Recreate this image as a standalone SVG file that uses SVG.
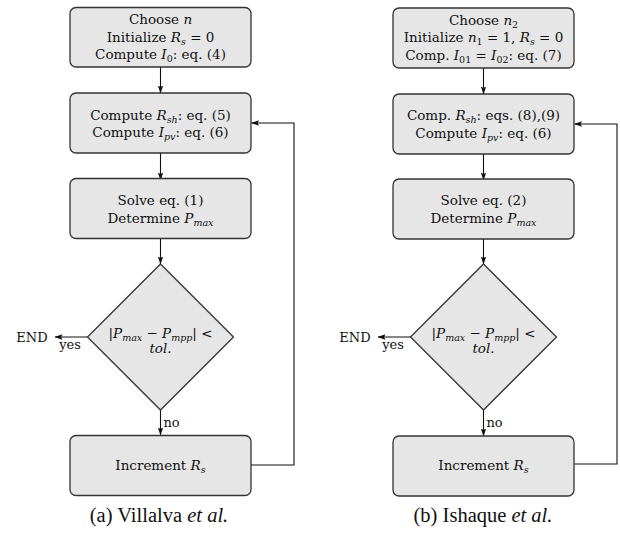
<svg xmlns="http://www.w3.org/2000/svg" width="620" height="539" viewBox="0 0 620 539">
<style>
text{font-family:'DejaVu Serif','Liberation Serif',serif;font-size:13.5px;fill:#111;text-anchor:middle}
.i{font-style:italic}
.s{font-size:9.5px;font-style:italic}
.n{font-style:normal}
.box{fill:#e6e6e6;stroke:#333;stroke-width:1.3}
.ln{fill:none;stroke:#111;stroke-width:1.1}
text.cap{font-family:'Liberation Serif','Times New Roman',serif;font-size:20.5px}
text.lbl{font-size:13px}
</style>
<defs>
<marker id="ah" viewBox="0 0 8 6" refX="7.5" refY="3" markerWidth="8" markerHeight="6" markerUnits="userSpaceOnUse" orient="auto">
<path d="M0,0.3 L8,3 L0,5.7 L1.5,3 z" fill="#111"/>
</marker>
</defs>

<g id="connectors">
<line class="ln" x1="160.5" y1="67" x2="160.5" y2="93" marker-end="url(#ah)"/>
<line class="ln" x1="160.5" y1="153" x2="160.5" y2="180" marker-end="url(#ah)"/>
<line class="ln" x1="160.5" y1="238" x2="160.5" y2="264" marker-end="url(#ah)"/>
<line class="ln" x1="160.5" y1="410" x2="160.5" y2="435" marker-end="url(#ah)"/>
<line class="ln" x1="87.5" y1="337" x2="55" y2="337" marker-end="url(#ah)"/>
<polyline class="ln" points="251,465 294,465 294,123 251.5,123" marker-end="url(#ah)"/>
<line class="ln" x1="483.5" y1="68" x2="483.5" y2="94" marker-end="url(#ah)"/>
<line class="ln" x1="483.5" y1="154" x2="483.5" y2="180" marker-end="url(#ah)"/>
<line class="ln" x1="483.5" y1="238" x2="483.5" y2="264" marker-end="url(#ah)"/>
<line class="ln" x1="483.5" y1="410" x2="483.5" y2="436" marker-end="url(#ah)"/>
<line class="ln" x1="410.5" y1="337" x2="378" y2="337" marker-end="url(#ah)"/>
<polyline class="ln" points="574,464 617,464 617,124 574.5,124" marker-end="url(#ah)"/>
<text class="lbl" x="70" y="349">yes</text>
<text class="lbl" x="171.5" y="427">no</text>
<text class="lbl" x="393" y="349">yes</text>
<text class="lbl" x="494.5" y="427">no</text>
<text class="lbl" x="32" y="342">END</text>
<text class="lbl" x="355" y="342">END</text>
</g>

<g id="a-init">
<rect class="box" x="70" y="7.5" width="181" height="59.5" rx="6"/>
<text x="160.5" y="24">Choose <tspan class="i">n</tspan></text>
<text x="160.5" y="41.5">Initialize <tspan class="i">R</tspan><tspan class="s" dy="3">s</tspan><tspan dy="-3">  =  0</tspan></text>
<text x="160.5" y="59">Compute <tspan class="i">I</tspan><tspan class="s n" dy="3">0</tspan><tspan dy="-3">: eq. (4)</tspan></text>
</g>
<g id="a-rsh">
<rect class="box" x="70" y="93" width="181" height="60" rx="6"/>
<text x="160.5" y="119.5">Compute <tspan class="i">R</tspan><tspan class="s" dy="3">sh</tspan><tspan dy="-3">: eq. (5)</tspan></text>
<text x="160.5" y="137">Compute <tspan class="i">I</tspan><tspan class="s" dy="3">pv</tspan><tspan dy="-3">: eq. (6)</tspan></text>
</g>
<g id="a-solve">
<rect class="box" x="70" y="178.5" width="181" height="60" rx="6"/>
<text x="160.5" y="205">Solve eq. (1)</text>
<text x="160.5" y="222.5">Determine <tspan class="i">P</tspan><tspan class="s" dy="3">max</tspan></text>
</g>
<g id="a-check">
<polygon class="box" points="160.5,264 233.5,337 160.5,410 87.5,337"/>
<text x="160.5" y="338">|<tspan class="i">P</tspan><tspan class="s" dy="3">max</tspan><tspan dy="-3"> − </tspan><tspan class="i">P</tspan><tspan class="s" dy="3">mpp</tspan><tspan dy="-3">| &lt;</tspan></text>
<text x="160.5" y="353" class="i">tol.</text>
</g>
<g id="a-inc">
<rect class="box" x="70" y="435.5" width="181" height="60" rx="6"/>
<text x="160.5" y="470">Increment <tspan class="i">R</tspan><tspan class="s" dy="3">s</tspan></text>
</g>

<g id="b-init">
<rect class="box" x="393" y="8" width="181" height="60" rx="6"/>
<text x="483.5" y="24.5">Choose <tspan class="i">n</tspan><tspan class="s n" dy="3">2</tspan></text>
<text x="483.5" y="42">Initialize <tspan class="i">n</tspan><tspan class="s n" dy="3">1</tspan><tspan dy="-3"> = 1, </tspan><tspan class="i">R</tspan><tspan class="s" dy="3">s</tspan><tspan dy="-3"> = 0</tspan></text>
<text x="483.5" y="59.5">Comp. <tspan class="i">I</tspan><tspan class="s n" dy="3">01</tspan><tspan dy="-3"> = </tspan><tspan class="i">I</tspan><tspan class="s n" dy="3">02</tspan><tspan dy="-3">: eq. (7)</tspan></text>
</g>
<g id="b-rsh">
<rect class="box" x="393" y="94" width="181" height="60" rx="6"/>
<text x="483.5" y="120">Comp. <tspan class="i">R</tspan><tspan class="s" dy="3">sh</tspan><tspan dy="-3">: eqs. (8),(9)</tspan></text>
<text x="483.5" y="137.5">Compute <tspan class="i">I</tspan><tspan class="s" dy="3">pv</tspan><tspan dy="-3">: eq. (6)</tspan></text>
</g>
<g id="b-solve">
<rect class="box" x="393" y="179" width="181" height="60" rx="6"/>
<text x="483.5" y="205">Solve eq. (2)</text>
<text x="483.5" y="222.5">Determine <tspan class="i">P</tspan><tspan class="s" dy="3">max</tspan></text>
</g>
<g id="b-check">
<polygon class="box" points="483.5,264 556.5,337 483.5,410 410.5,337"/>
<text x="483.5" y="338">|<tspan class="i">P</tspan><tspan class="s" dy="3">max</tspan><tspan dy="-3"> − </tspan><tspan class="i">P</tspan><tspan class="s" dy="3">mpp</tspan><tspan dy="-3">| &lt;</tspan></text>
<text x="483.5" y="353" class="i">tol.</text>
</g>
<g id="b-inc">
<rect class="box" x="393" y="436" width="181" height="60" rx="6"/>
<text x="483.5" y="470">Increment <tspan class="i">R</tspan><tspan class="s" dy="3">s</tspan></text>
</g>

<g id="captions">
<text class="cap" x="159" y="522">(a) Villalva <tspan class="i">et al.</tspan></text>
<text class="cap" x="483" y="522">(b) Ishaque <tspan class="i">et al.</tspan></text>
</g>
</svg>
